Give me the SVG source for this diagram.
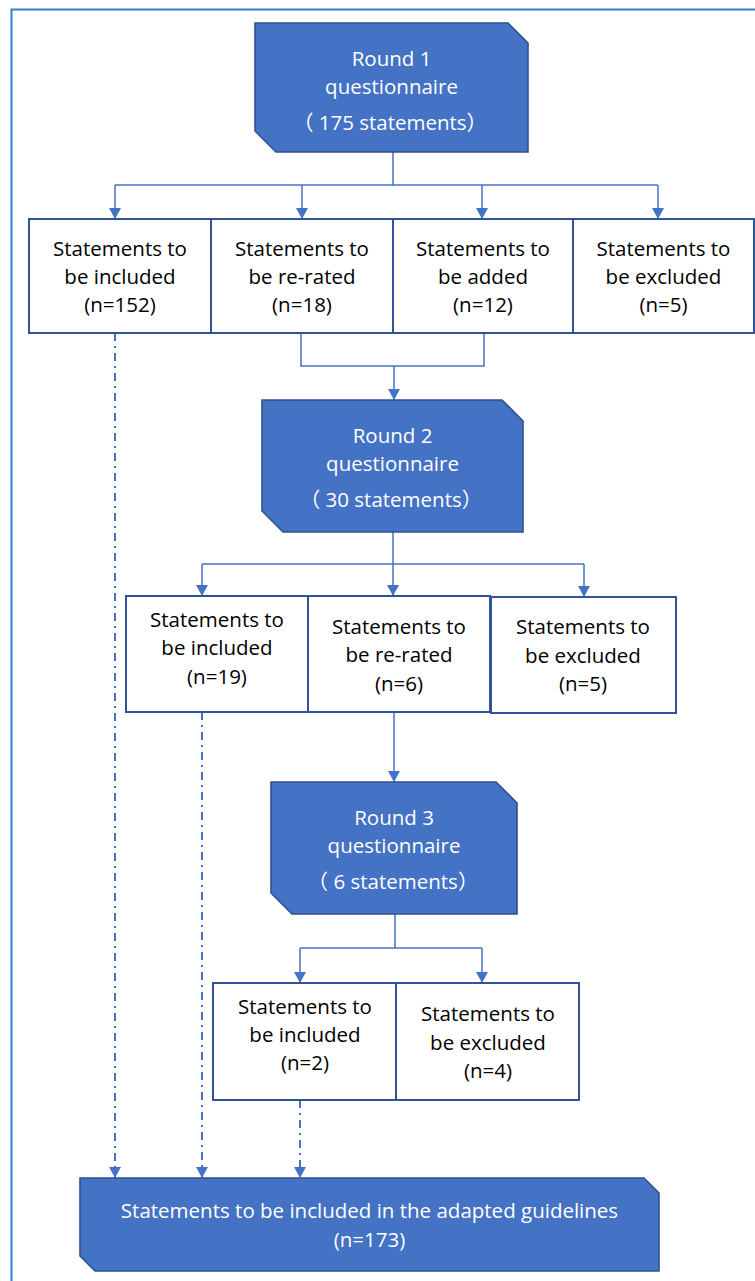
<svg xmlns="http://www.w3.org/2000/svg" width="755" height="1281" viewBox="0 0 755 1281">
<defs>
<style>
.frame{fill:none;stroke:#2F80CF;stroke-width:2}
.round{fill:#4472C4;stroke:#2F528F;stroke-width:1.6}
.box{fill:#FFFFFF;stroke:#2F5597;stroke-width:2}
.wt{fill:#FFFFFF;font-family:"Open Sans","Noto Sans CJK SC",sans-serif;font-size:20.5px;text-anchor:middle}
.bt{fill:#000000;font-family:"Open Sans","Noto Sans CJK SC",sans-serif;font-size:20.5px;text-anchor:middle}
.ln{fill:none;stroke:#4472C4;stroke-width:1.5}
.dd{fill:none;stroke:#4472C4;stroke-width:2;stroke-dasharray:8 5 2 5}
</style>
<marker id="ah" viewBox="0 0 11 12" refX="11" refY="6" markerWidth="11" markerHeight="12" markerUnits="userSpaceOnUse" orient="auto">
<path d="M0,0 L11,6 L0,12 Z" fill="#4472C4"/>
</marker>
</defs>
<rect width="755" height="1281" fill="#FFFFFF"/>
<path class="frame" d="M11.5,1281 V9.5 H755"/>

<g id="connectors">
<path class="ln" d="M393,152 V185"/>
<path class="ln" d="M115,185 H658"/>
<path class="ln" d="M115,185 V219" marker-end="url(#ah)"/>
<path class="ln" d="M302,185 V219" marker-end="url(#ah)"/>
<path class="ln" d="M482,185 V219" marker-end="url(#ah)"/>
<path class="ln" d="M658,185 V219" marker-end="url(#ah)"/>
<path class="ln" d="M301,333 V366 H484 V333"/>
<path class="ln" d="M394,366 V400" marker-end="url(#ah)"/>
<path class="ln" d="M393,532 V596" marker-end="url(#ah)"/>
<path class="ln" d="M202,564 H584"/>
<path class="ln" d="M202,564 V596" marker-end="url(#ah)"/>
<path class="ln" d="M584,564 V597" marker-end="url(#ah)"/>
<path class="ln" d="M394,712 V782" marker-end="url(#ah)"/>
<path class="ln" d="M395,914 V948"/>
<path class="ln" d="M300,948 H482"/>
<path class="ln" d="M300,948 V983" marker-end="url(#ah)"/>
<path class="ln" d="M482,948 V983" marker-end="url(#ah)"/>
<path class="dd" d="M115,333 V1178" marker-end="url(#ah)"/>
<path class="dd" d="M202,712 V1178" marker-end="url(#ah)"/>
<path class="dd" d="M300,1100 V1178" marker-end="url(#ah)"/>
</g>

<g id="round1">
<path class="round" d="M255,23 H508 L528,43 V152 H276 L255,131 Z"/>
<text class="wt" x="391.5" y="66">Round 1</text>
<text class="wt" x="391.5" y="94">questionnaire</text>
<text class="wt" x="390" y="130">（ 175 statements）</text>
</g>

<g id="r1-included">
<rect class="box" x="29" y="219" width="182" height="114"/>
<text class="bt" x="120" y="256">Statements to</text>
<text class="bt" x="120" y="284">be included</text>
<text class="bt" x="120" y="312">(n=152)</text>
</g>
<g id="r1-rerated">
<rect class="box" x="211" y="219" width="182" height="114"/>
<text class="bt" x="302" y="256">Statements to</text>
<text class="bt" x="302" y="284">be re-rated</text>
<text class="bt" x="302" y="312">(n=18)</text>
</g>
<g id="r1-added">
<rect class="box" x="393" y="219" width="180" height="114"/>
<text class="bt" x="483" y="256">Statements to</text>
<text class="bt" x="483" y="284">be added</text>
<text class="bt" x="483" y="312">(n=12)</text>
</g>
<g id="r1-excluded">
<rect class="box" x="573" y="219" width="181" height="114"/>
<text class="bt" x="663.5" y="256">Statements to</text>
<text class="bt" x="663.5" y="284">be excluded</text>
<text class="bt" x="663.5" y="312">(n=5)</text>
</g>

<g id="round2">
<path class="round" d="M262,400 H502 L523,421 V532 H283 L262,511 Z"/>
<text class="wt" x="392.5" y="443">Round 2</text>
<text class="wt" x="392.5" y="471">questionnaire</text>
<text class="wt" x="391" y="507">（ 30 statements）</text>
</g>

<g id="r2-included">
<rect class="box" x="126" y="596" width="182" height="116"/>
<text class="bt" x="217" y="627">Statements to</text>
<text class="bt" x="217" y="655">be included</text>
<text class="bt" x="217" y="684">(n=19)</text>
</g>
<g id="r2-rerated">
<rect class="box" x="308" y="596" width="182" height="116"/>
<text class="bt" x="399" y="634">Statements to</text>
<text class="bt" x="399" y="662">be re-rated</text>
<text class="bt" x="399" y="691">(n=6)</text>
</g>
<g id="r2-excluded">
<rect class="box" x="491" y="597" width="185" height="116"/>
<text class="bt" x="583" y="634">Statements to</text>
<text class="bt" x="583" y="663">be excluded</text>
<text class="bt" x="583" y="691">(n=5)</text>
</g>

<g id="round3">
<path class="round" d="M271,782 H496 L517,803 V914 H292 L271,893 Z"/>
<text class="wt" x="394" y="825">Round 3</text>
<text class="wt" x="394" y="853">questionnaire</text>
<text class="wt" x="393" y="889">（ 6 statements）</text>
</g>

<g id="r3-included">
<rect class="box" x="213" y="983" width="183" height="117"/>
<text class="bt" x="305" y="1014">Statements to</text>
<text class="bt" x="305" y="1042">be included</text>
<text class="bt" x="305" y="1070">(n=2)</text>
</g>
<g id="r3-excluded">
<rect class="box" x="396" y="983" width="183" height="117"/>
<text class="bt" x="488" y="1021">Statements to</text>
<text class="bt" x="488" y="1050">be excluded</text>
<text class="bt" x="488" y="1078">(n=4)</text>
</g>

<g id="final">
<path class="round" d="M80,1178 H644 L659,1193 V1271 H95 L80,1256 Z"/>
<text class="wt" x="369.5" y="1218">Statements to be included in the adapted guidelines</text>
<text class="wt" x="369.5" y="1247">(n=173)</text>
</g>
</svg>
